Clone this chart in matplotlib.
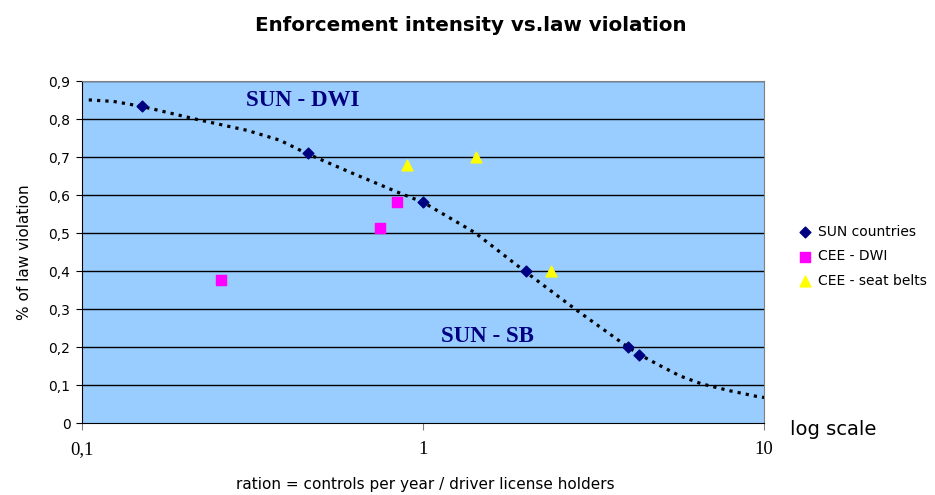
import numpy as np
import matplotlib.pyplot as plt
from matplotlib.ticker import FixedLocator, NullLocator

# SUN countries
sun_x = [0.15, 0.46, 1.0, 2.0, 4.0, 4.3]
sun_y = [0.834, 0.710, 0.582, 0.40, 0.20, 0.18]
# CEE - DWI
dwi_x = [0.256, 0.75, 0.84]
dwi_y = [0.377, 0.515, 0.582]
# CEE - seat belts
sb_x = [0.90, 1.43, 2.38]
sb_y = [0.68, 0.702, 0.40]
# dotted trend curve
trend_x = [0.105, 0.124, 0.150, 0.217, 0.305, 0.381, 0.457, 0.611, 0.866, 1.0,
           1.42, 1.99, 2.82, 4.0, 4.33, 5.0, 5.66, 6.55, 8.0, 9.5, 10.0]
trend_y = [0.851, 0.847, 0.834, 0.800, 0.771, 0.745, 0.710, 0.661, 0.604, 0.582,
           0.502, 0.400, 0.298, 0.200, 0.180, 0.150, 0.125, 0.104, 0.085, 0.071, 0.068]

y_ticks = [0, 0.1, 0.2, 0.3, 0.4, 0.5, 0.6, 0.7, 0.8, 0.9]
y_labels = ['0', '0,1', '0,2', '0,3', '0,4', '0,5', '0,6', '0,7', '0,8', '0,9']
x_ticks = [0.1, 1, 10]
x_labels = ['0,1', '1', '10']

fig = plt.figure(figsize=(9.35, 4.95), dpi=100)
ax = fig.add_axes([0.0872, 0.1448, 0.730, 0.691])
ax.set_facecolor('#99CCFF')
ax.set_xscale('log')
ax.set_xlim(0.1, 10)
ax.set_ylim(0, 0.9)

for v in y_ticks[1:]:
    ax.axhline(v, color='black', lw=1, zorder=1)

ax.plot(trend_x, trend_y, color='black', ls=(0, (1, 1.6)), lw=2.3, zorder=2)

ax.scatter(sun_x, sun_y, marker='D', s=30, color='#000080', zorder=3, label='SUN countries')
ax.scatter(dwi_x, dwi_y, marker='s', s=55, color='#FF00FF', zorder=3, label='CEE - DWI')
ax.scatter(sb_x, sb_y, marker='^', s=60, color='#FFFF00', zorder=3, label='CEE - seat belts')

ax.text(0.445, 0.849, 'SUN - DWI', color='#000080', fontsize=16.5, fontweight='bold',
        family='Liberation Serif', ha='center', va='center')
ax.text(1.55, 0.228, 'SUN - SB', color='#000080', fontsize=16.5, fontweight='bold',
        family='Liberation Serif', ha='center', va='center')

ax.xaxis.set_major_locator(FixedLocator(x_ticks))
ax.xaxis.set_minor_locator(NullLocator())
ax.set_xticklabels(x_labels, family='Liberation Serif', fontsize=13.5)
ax.set_yticks(y_ticks)
ax.set_yticklabels(y_labels, fontsize=10)
ax.tick_params(axis='x', length=5, color='#808080', pad=8)
ax.tick_params(axis='y', length=4, pad=4)

for s in ['top', 'right']:
    ax.spines[s].set_color('#808080')
ax.spines['left'].set_color('black')
ax.spines['bottom'].set_color('black')

ax.set_ylabel('% of law violation', fontsize=11, labelpad=12)
fig.text(0.455, 0.012, 'ration = controls per year / driver license holders', fontsize=11, ha='center')
fig.text(0.845, 0.122, 'log scale', fontsize=14)
fig.suptitle('Enforcement intensity vs.law violation', x=0.503, y=0.968, fontsize=14.3, fontweight='bold')

ax.legend(loc='center left', bbox_to_anchor=(1.03, 0.488), frameon=False, fontsize=10,
          handletextpad=0.3, labelspacing=0.75, handlelength=1.2, scatterpoints=1)

fig.savefig('out.png', dpi=100)
